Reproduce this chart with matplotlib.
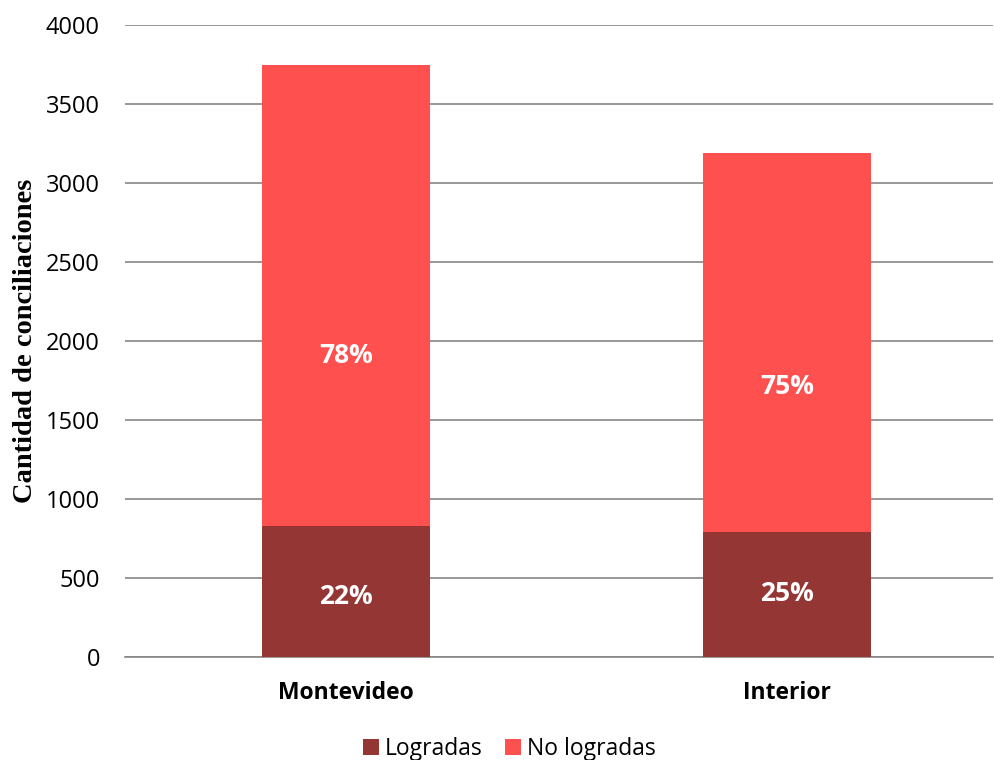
import matplotlib
matplotlib.use("Agg")
import matplotlib.pyplot as plt
import numpy as np

# datos
regiones = ["Montevideo", "Interior"]
logradas = [829, 791]
no_logradas = [2918, 2399]
pct_logradas = ["22%", "25%"]
pct_no_logradas = ["78%", "75%"]

c_logr = "#943634"
c_nologr = "#FF5050"

plt.rcParams['font.family'] = ['Open Sans', 'DejaVu Sans']

fig = plt.figure(figsize=(9.95, 7.6), dpi=100)
ax = fig.add_axes([0.1256, 0.1355, 0.8724, 0.8315])

x = np.arange(len(regiones))
w = 0.381
ax.bar(x, logradas, w, color=c_logr, label="Logradas", zorder=3)
ax.bar(x, no_logradas, w, bottom=logradas, color=c_nologr, label="No logradas", zorder=3)

# etiquetas de porcentaje (posicion como en el original)
y_lab_low = [380, 405]
y_lab_high = [1911, 1715]
for i in range(len(regiones)):
    ax.text(x[i], y_lab_low[i], pct_logradas[i], ha="center", va="center",
            color="white", fontsize=19, fontweight="bold", zorder=4)
    ax.text(x[i], y_lab_high[i], pct_no_logradas[i], ha="center", va="center",
            color="white", fontsize=19, fontweight="bold", zorder=4)

ax.set_ylim(0, 4000)
ax.set_xlim(-0.501, 1.467)
ax.set_yticks(np.arange(0, 4001, 500))
ax.yaxis.grid(True, color="#868686", linewidth=1.2, zorder=0)
ax.set_xticks(x)
ax.set_xticklabels(regiones, fontweight="bold", fontsize=16.5)
ax.tick_params(axis="y", labelsize=17, length=0, pad=18)
ax.tick_params(axis="x", length=0, pad=17)
for s in ["top", "right", "left"]:
    ax.spines[s].set_visible(False)
ax.spines["bottom"].set_color("#868686")
ax.spines["bottom"].set_linewidth(1.2)

ax.set_ylabel("Cantidad de conciliaciones", family=["Liberation Serif"],
              fontweight="bold", fontsize=20.5, labelpad=6)

fig.legend(loc="lower center", bbox_to_anchor=(0.512, -0.028), ncol=2, frameon=False,
           fontsize=16.5, handlelength=0.7, handleheight=0.7, handletextpad=0.25,
           columnspacing=1.0)

fig.savefig("out.png", dpi=100)
